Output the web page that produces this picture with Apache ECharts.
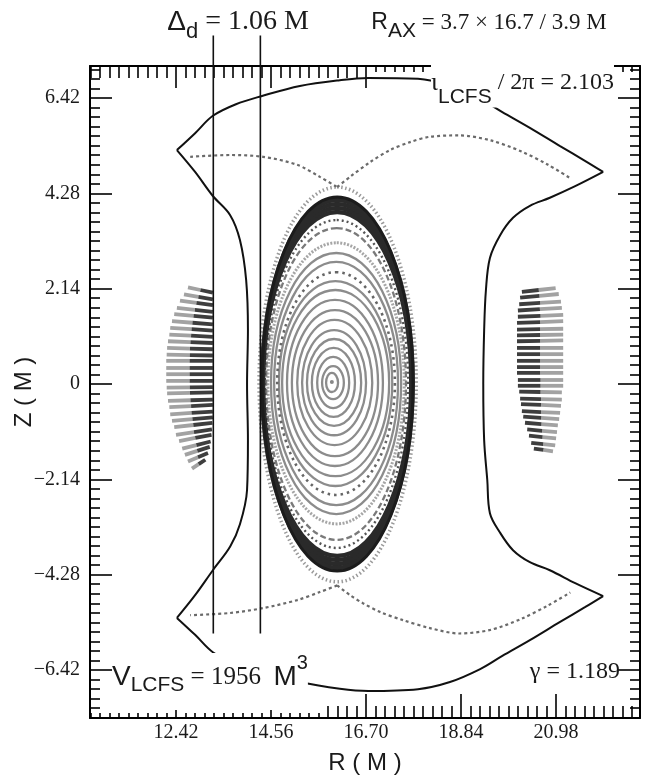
<!DOCTYPE html>
<html>
<head>
<meta charset="utf-8">
<script src="https://cdn.jsdelivr.net/npm/echarts@6.0.0/dist/echarts.min.js"></script>
<style>
html,body{margin:0;padding:0;background:#ffffff;}
#chart{width:655px;height:780px;}
</style>
</head>
<body>
<div id="chart"></div>
<script>
// ---------- axis ticks ----------
const xTicks = [12.42, 14.56, 16.70, 18.84, 20.98];
const xTickLabels = ['12.42', '14.56', '16.70', '18.84', '20.98'];
const yTicks = [-6.42, -4.28, -2.14, 0, 2.14, 4.28, 6.42];
const yTickLabels = ['\u22126.42', '\u22124.28', '\u22122.14', '0', '2.14', '4.28', '6.42'];
const minorStep = 0.214;
const rRange = [10.483, 22.870];
const zRange = [-7.497, 7.138];

// ---------- nested flux surfaces (inner -> outer) ----------
const ringLeftR   = [15.80,15.71,15.60,15.48,15.37,15.26,15.15,15.03,14.92,14.81,14.74,14.70,14.63,14.56,14.49,14.45,14.42,14.38,14.37,14.37,14.36,14.36,14.29];
const ringRightR  = [16.07,16.20,16.32,16.45,16.59,16.70,16.84,16.97,17.08,17.22,17.29,17.35,17.42,17.49,17.56,17.60,17.65,17.72,17.73,17.74,17.75,17.76,17.83];
const ringTopZ    = [0.25,0.40,0.61,0.81,1.01,1.21,1.44,1.66,1.89,2.11,2.31,2.51,2.74,2.94,3.17,3.50,3.68,3.86,3.95,4.04,4.13,4.20,4.42];
const ringBottomZ = [-0.18,-0.34,-0.54,-0.74,-0.94,-1.15,-1.37,-1.62,-1.84,-2.07,-2.29,-2.49,-2.72,-2.92,-3.14,-3.50,-3.68,-3.86,-3.95,-4.04,-4.13,-4.20,-4.44];
const ringMidR    = [15.93,15.96,15.96,15.97,15.98,15.98,15.99,16.00,16.00,16.01,16.01,16.02,16.03,16.03,16.04,16.04,16.04,16.05,16.05,16.05,16.05,16.05,16.05];
const ringSideZ = 0.03;
const magneticAxis = [[15.93, 0.045]];
const ringKinds = ['s','s','s','s','s','s','s','s','s','s','s','dot','s','s','speck','dash','dotd','dark','dark','dark','dark','lcfs','halo'];

// ---------- island chains: [outerR, outerZ, innerR, innerZ] ----------
const leftIslandStrokes = [
 [12.69,2.17,13.25,2.05],[12.60,2.01,13.25,1.90],[12.51,1.87,13.25,1.77],[12.44,1.71,13.25,1.62],
 [12.38,1.57,13.25,1.49],[12.33,1.41,13.25,1.34],[12.29,1.26,13.25,1.20],[12.27,1.11,13.25,1.06],
 [12.24,0.96,13.25,0.92],[12.22,0.81,13.25,0.78],[12.21,0.66,13.25,0.64],[12.20,0.52,13.25,0.52],
 [12.20,0.36,13.25,0.36],[12.20,0.22,13.25,0.22],[12.20,0.07,13.25,0.07],[12.21,-0.08,13.25,-0.07],
 [12.22,-0.21,13.25,-0.19],[12.24,-0.38,13.25,-0.35],[12.27,-0.52,13.25,-0.47],[12.29,-0.68,13.25,-0.62],
 [12.33,-0.83,13.25,-0.75],[12.38,-0.97,13.24,-0.87],[12.42,-1.14,13.23,-1.02],[12.49,-1.28,13.22,-1.14],
 [12.56,-1.45,13.20,-1.29],[12.62,-1.59,13.18,-1.41],[12.69,-1.74,13.14,-1.55],[12.78,-1.90,13.08,-1.70]
];
const rightIslandStrokes = [
 [20.97,2.15,20.21,2.07],[21.04,2.02,20.17,1.94],[21.09,1.85,20.15,1.79],[21.11,1.71,20.12,1.65],
 [21.14,1.55,20.12,1.51],[21.14,1.41,20.10,1.37],[21.14,1.24,20.10,1.22],[21.14,1.11,20.10,1.09],
 [21.14,0.98,20.10,0.96],[21.14,0.81,20.10,0.81],[21.14,0.67,20.10,0.67],[21.14,0.52,20.10,0.52],
 [21.14,0.38,20.10,0.38],[21.14,0.25,20.10,0.25],[21.14,0.09,20.12,0.09],[21.14,-0.04,20.12,-0.04],
 [21.11,-0.19,20.15,-0.17],[21.11,-0.35,20.17,-0.33],[21.09,-0.49,20.19,-0.45],[21.07,-0.65,20.21,-0.61],
 [21.05,-0.79,20.24,-0.73],[21.02,-0.93,20.28,-0.87],[21.00,-1.08,20.33,-1.02],[20.98,-1.22,20.37,-1.16],
 [20.96,-1.38,20.42,-1.32],[20.91,-1.51,20.48,-1.45]
];

// ---------- outer boundary ----------
const boundaryTop = [[12.44,5.25],[12.85,5.63],[13.25,6.02],[13.77,6.28],[14.34,6.46],[15.21,6.69],[16.11,6.82],[16.75,6.87],[17.87,6.85],[18.59,6.69],[19.27,6.40],[19.76,6.11],[20.39,5.75],[21.07,5.34],[21.63,5.01],[22.04,4.76]];
const boundaryRight = [[22.04,4.76],[21.41,4.44],[20.84,4.18],[20.39,4.00],[20.01,3.73],[19.72,3.34],[19.49,2.83],[19.40,2.11],[19.36,1.21],[19.34,0.00],[19.36,-1.26],[19.43,-2.15],[19.49,-2.90],[19.72,-3.34],[20.01,-3.73],[20.39,-4.00],[20.84,-4.18],[21.41,-4.47],[22.04,-4.76]];
const boundaryBottom = [[22.04,-4.76],[21.63,-5.01],[21.07,-5.34],[20.39,-5.75],[19.76,-6.11],[19.27,-6.40],[18.59,-6.69],[17.87,-6.85],[16.75,-6.89],[16.11,-6.84],[15.21,-6.69],[14.34,-6.46],[13.77,-6.28],[13.25,-6.02],[12.85,-5.63],[12.44,-5.25]];
const boundaryLeft = [[12.44,5.25],[12.85,4.76],[13.25,4.22],[13.64,3.79],[13.86,3.23],[14.00,2.33],[14.04,1.21],[14.02,0.00],[14.04,-1.26],[14.02,-2.38],[13.86,-3.15],[13.64,-3.65],[13.25,-4.18],[12.85,-4.74],[12.44,-5.25]];

// ---------- separatrix legs ----------
const legTopLeft = [[12.74,5.10],[13.64,5.14],[14.38,5.10],[15.15,4.92],[15.66,4.65],[16.05,4.42]];
const legTopRight = [[16.05,4.42],[16.34,4.65],[16.79,4.98],[17.24,5.25],[17.69,5.43],[18.14,5.55],[18.80,5.58],[19.50,5.47],[20.20,5.22],[20.80,4.92],[21.30,4.62]];
const legBottomLeft = [[16.05,-4.52],[15.66,-4.67],[15.15,-4.85],[14.38,-5.03],[13.64,-5.14],[12.74,-5.19]];
const legBottomRight = [[16.05,-4.52],[16.34,-4.74],[16.63,-4.92],[17.02,-5.12],[17.53,-5.30],[18.14,-5.48],[18.80,-5.60],[19.50,-5.52],[20.20,-5.27],[20.80,-4.97],[21.30,-4.68]];

// ---------- divertor-distance lines ----------
const deltaLinesR = [13.26, 14.32];
const deltaLinesZ = [7.82, -5.60];

// ================= build =================
function ladder(anchor, lo, hi) {
  const out = [];
  for (let k = -80; k <= 80; k++) {
    const v = Math.round((anchor + k * minorStep) * 1000) / 1000;
    if (v > lo + 1e-6 && v < hi - 1e-6) out.push(v);
  }
  return out;
}
function isIn(v, arr) { return arr.some(m => Math.abs(m - v) < 1e-6); }
const xAll = ladder(xTicks[0], rRange[0], rRange[1]);
const xMinor = xAll.filter(v => !isIn(v, xTicks));
const yAll = ladder(0, zRange[0], zRange[1]);
const yMinor = yAll.filter(v => !isIn(v, yTicks));

function labelFor(v, ticks, labels) {
  for (let i = 0; i < ticks.length; i++) if (Math.abs(ticks[i] - v) < 1e-6) return labels[i];
  return '';
}

function ax(dim, pos, ticks, len, showLine) {
  return {
    type: 'value', position: pos,
    min: dim === 'x' ? rRange[0] : zRange[0],
    max: dim === 'x' ? rRange[1] : zRange[1],
    axisLine: { show: showLine, onZero: false, lineStyle: { color: '#000', width: 2 } },
    axisTick: { show: true, inside: true, length: len, customValues: ticks, lineStyle: { color: '#000', width: 1.6 } },
    axisLabel: { show: false },
    splitLine: { show: false },
    minorTick: { show: false },
    minorSplitLine: { show: false }
  };
}

const xMain = ax('x', 'bottom', xTicks.filter(v => v > 15.8), 24, true);
xMain.axisLabel = {
  show: true, customValues: xTicks, margin: 5,
  formatter: v => labelFor(v, xTicks, xTickLabels),
  fontFamily: 'Liberation Serif', fontSize: 20, color: '#1a1a1a'
};
xMain.name = 'R ( M )';
xMain.nameLocation = 'middle';
xMain.nameGap = 33;
xMain.nameMoveOverlap = false;
xMain.nameTextStyle = { fontFamily: 'Liberation Sans', fontSize: 24, color: '#1a1a1a' };

const yMain = ax('y', 'left', yTicks, 22, true);
yMain.axisLabel = {
  show: true, customValues: yTicks, margin: 10,
  formatter: v => labelFor(v, yTicks, yTickLabels),
  fontFamily: 'Liberation Serif', fontSize: 20, color: '#1a1a1a'
};
yMain.name = 'Z ( M )';
yMain.nameLocation = 'middle';
yMain.nameRotate = 90;
yMain.nameGap = 54;
yMain.nameMoveOverlap = false;
yMain.nameTextStyle = { fontFamily: 'Liberation Sans', fontSize: 24, color: '#1a1a1a' };

const xAxes = [
  xMain,
  ax('x', 'bottom', xTicks.filter(v => v < 15.8), 8, false),
  ax('x', 'bottom', xMinor.filter(v => v < 15.8), 5, false),
  ax('x', 'bottom', xMinor.filter(v => v > 15.8), 12, false),
  ax('x', 'top', xTicks.filter(v => v <= 16.71), 22, true),
  ax('x', 'top', xTicks.filter(v => v > 16.71), 10, false),
  ax('x', 'top', xMinor.filter(v => v < 16.70), 12, false),
  ax('x', 'top', xMinor.filter(v => v > 16.70), 6, false)
];
const yAxes = [
  yMain,
  ax('y', 'left', yMinor, 10, false),
  ax('y', 'right', yTicks, 22, true),
  ax('y', 'right', yMinor, 10, false)
];

const ringStyles = {
  s:     { c: '#8c8c8c', w: 2.3, d: null, z: 3 },
  dot:   { c: '#666666', w: 2.6, d: [2.5, 4], z: 3 },
  speck: { c: '#a6a6a6', w: 3, d: [2, 1.5], z: 3 },
  dash:  { c: '#7a7a7a', w: 2.3, d: [6, 3], z: 3 },
  dotd:  { c: '#555555', w: 2.4, d: [2, 3], z: 3 },
  dark:  { c: '#2a2a2a', w: 4.5, d: null, z: 4 },
  lcfs:  { c: '#1c1c1c', w: 3, d: null, z: 5 },
  halo:  { c: '#9a9a9a', w: 3.5, d: [1.5, 2.5], z: 1 }
};

function lineSeries(data, color, width, type, smooth) {
  return {
    type: 'line', data: data, xAxisIndex: 0, yAxisIndex: 0,
    showSymbol: false, symbol: 'none', smooth: smooth, silent: true,
    lineStyle: { color: color, width: width, type: type }, z: 4, animation: false
  };
}

function islandRender(params, api) {
  const a = api.coord([api.value(0), api.value(1)]);
  const b = api.coord([api.value(2), api.value(3)]);
  const m = [(a[0] + b[0]) / 2, (a[1] + b[1]) / 2];
  return {
    type: 'group', children: [
      { type: 'line', shape: { x1: a[0], y1: a[1], x2: m[0], y2: m[1] }, style: { stroke: '#a2a2a2', lineWidth: 3.8 } },
      { type: 'line', shape: { x1: m[0], y1: m[1], x2: b[0], y2: b[1] }, style: { stroke: '#3e3e3e', lineWidth: 3.8 } }
    ]
  };
}

const series = [
  {
    type: 'custom', coordinateSystem: 'cartesian2d', xAxisIndex: 0, yAxisIndex: 0, silent: true, animation: false,
    data: ringMidR.map((r, i) => [r, ringTopZ[i]]),
    renderItem: function (params, api) {
      const i = params.dataIndex;
      const pts = [
        api.coord([ringMidR[i], ringTopZ[i]]),
        api.coord([ringRightR[i], ringSideZ]),
        api.coord([ringMidR[i], ringBottomZ[i]]),
        api.coord([ringLeftR[i], ringSideZ])
      ];
      const st = ringStyles[ringKinds[i]];
      return {
        type: 'polygon', z2: st.z,
        shape: { points: pts, smooth: 0.55 },
        style: { fill: 'none', stroke: st.c, lineWidth: st.w, lineDash: st.d }
      };
    },
    z: 2
  },
  {
    type: 'scatter', data: magneticAxis, xAxisIndex: 0, yAxisIndex: 0, symbolSize: 4, silent: true,
    itemStyle: { color: '#6a6a6a' }, z: 3, animation: false
  },
  {
    type: 'custom', coordinateSystem: 'cartesian2d', xAxisIndex: 0, yAxisIndex: 0, silent: true, animation: false,
    dimensions: ['r1', 'z1', 'r2', 'z2'], encode: { x: [0, 2], y: [1, 3] },
    data: leftIslandStrokes, renderItem: islandRender, z: 2
  },
  {
    type: 'custom', coordinateSystem: 'cartesian2d', xAxisIndex: 0, yAxisIndex: 0, silent: true, animation: false,
    dimensions: ['r1', 'z1', 'r2', 'z2'], encode: { x: [0, 2], y: [1, 3] },
    data: rightIslandStrokes, renderItem: islandRender, z: 2
  },
  lineSeries(boundaryTop, '#111111', 2, 'solid', 0.35),
  lineSeries(boundaryRight, '#111111', 2, 'solid', 0.35),
  lineSeries(boundaryBottom, '#111111', 2, 'solid', 0.35),
  lineSeries(boundaryLeft, '#111111', 2, 'solid', 0.35),
  lineSeries(legTopLeft, '#6a6a6a', 2.2, [3, 3], 0.3),
  lineSeries(legTopRight, '#6a6a6a', 2.2, [3, 3], 0.3),
  lineSeries(legBottomLeft, '#6a6a6a', 2.2, [3, 3], 0.3),
  lineSeries(legBottomRight, '#6a6a6a', 2.2, [3, 3], 0.3)
];
deltaLinesR.forEach(r => {
  const s = lineSeries([[r, deltaLinesZ[0]], [r, deltaLinesZ[1]]], '#111111', 1.6, 'solid', false);
  s.clip = false;
  s.z = 6;
  series.push(s);
});

const sans = 'Liberation Sans', serif = 'Liberation Serif', ink = '#1a1a1a';
const graphic = [
  { type: 'text', x: 238, y: 22, z: 10, style: {
      text: '{D|\u0394}{d|d}{t| = 1.06 M}', align: 'center', verticalAlign: 'middle',
      rich: {
        D: { fontFamily: sans, fontSize: 28, fill: ink },
        d: { fontFamily: sans, fontSize: 22, fill: ink, padding: [19, 0, 0, 0] },
        t: { fontFamily: serif, fontSize: 28, fill: ink }
      } } },
  { type: 'text', x: 489, y: 23, z: 10, style: {
      text: '{R|R}{s|AX}{t| = 3.7 \u00d7 16.7 / 3.9 M}', align: 'center', verticalAlign: 'middle',
      rich: {
        R: { fontFamily: sans, fontSize: 23, fill: ink },
        s: { fontFamily: sans, fontSize: 21, fill: ink, padding: [17, 0, 0, 0] },
        t: { fontFamily: serif, fontSize: 23, fill: ink }
      } } },
  { type: 'text', x: 431, y: 83, z: 10, style: {
      text: '{i|\u03b9}{s|LCFS}{t| / 2\u03c0 = 2.103}', align: 'left', verticalAlign: 'middle',
      backgroundColor: '#ffffff',
      rich: {
        i: { fontFamily: serif, fontSize: 26, fill: ink },
        s: { fontFamily: sans, fontSize: 21, fill: ink, padding: [28, 0, 0, 0] },
        t: { fontFamily: serif, fontSize: 24, fill: ink }
      } } },
  { type: 'text', x: 112, y: 677, z: 10, style: {
      text: '{V|V}{s|LCFS}{t| = 1956  }{M|M}{p|3}', align: 'left', verticalAlign: 'middle',
      backgroundColor: '#ffffff',
      rich: {
        V: { fontFamily: sans, fontSize: 28, fill: ink },
        s: { fontFamily: sans, fontSize: 21, fill: ink, padding: [16, 0, 0, 0] },
        t: { fontFamily: serif, fontSize: 25, fill: ink },
        M: { fontFamily: sans, fontSize: 28, fill: ink },
        p: { fontFamily: sans, fontSize: 20, fill: ink, padding: [0, 0, 28, 0] }
      } } },
  { type: 'text', x: 620, y: 672, z: 10, style: {
      text: '\u03b3 = 1.189', align: 'right', verticalAlign: 'middle',
      fontFamily: serif, fontSize: 24, fill: ink } }
];

const chart = echarts.init(document.getElementById('chart'), null, { renderer: 'canvas', width: 655, height: 780 });
chart.setOption({
  backgroundColor: '#ffffff',
  animation: false,
  grid: { left: 90, top: 66, width: 550, height: 652, containLabel: false, outerBoundsMode: 'none' },
  xAxis: xAxes,
  yAxis: yAxes,
  series: series,
  graphic: graphic
});
</script>
</body>
</html>
